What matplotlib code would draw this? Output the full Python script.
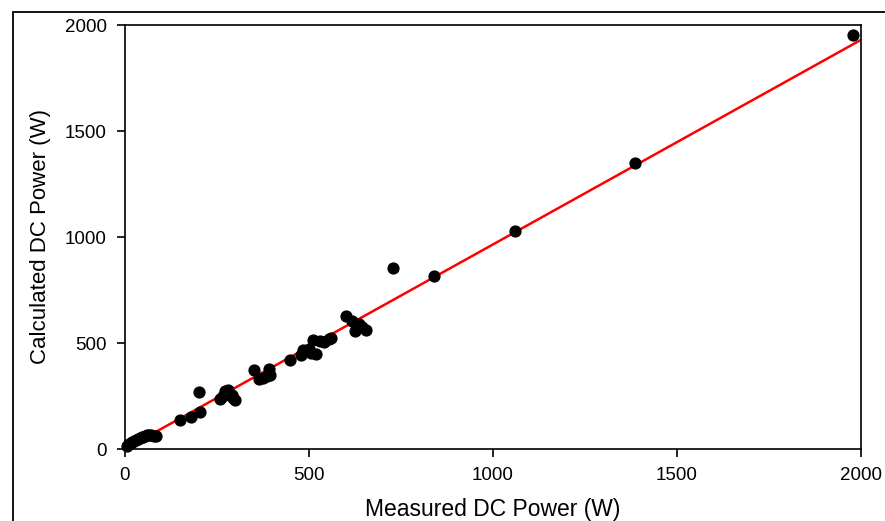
import numpy as np
import matplotlib.pyplot as plt
from matplotlib.patches import Rectangle

plt.rcParams['font.family'] = ['Liberation Sans', 'DejaVu Sans']

# measured vs calculated DC power (W)
measured = [5, 10, 15, 20, 25, 30, 35, 40, 45, 50, 55, 60, 65, 70, 80, 85,
            150, 178, 205, 201, 258, 265, 272, 280, 290, 293, 300,
            350, 365, 375, 385, 390, 395, 448, 478, 484, 500, 505, 510,
            520, 530, 540, 554, 560, 600, 617, 625, 635, 645, 655,
            727, 840, 1060, 1386, 1978]
calculated = [15, 25, 30, 35, 40, 42, 45, 50, 55, 58, 62, 65, 66, 64, 63, 62,
              137, 152, 175, 269, 238, 248, 275, 280, 255, 240, 232,
              373, 330, 335, 342, 377, 350, 420, 445, 468, 470, 455, 515,
              450, 510, 505, 520, 525, 627, 605, 555, 590, 575, 560,
              854, 816, 1028, 1349, 1953]

fit_x = [0, 2000]
fit_slope = 0.965

x_ticks = [0, 500, 1000, 1500, 2000]
y_ticks = [0, 500, 1000, 1500, 2000]

fig = plt.figure(figsize=(8.85, 5.21), dpi=100)
ax = fig.add_axes([125 / 885, 1 - 449 / 521, 736 / 885, 424 / 521])

# outer frame around the whole graphic
fig.patches.append(Rectangle((13 / 885, -0.1), 1.2, 1 - 12 / 521 + 0.1,
                             transform=fig.transFigure, fill=False,
                             edgecolor='black', linewidth=1.3))

ax.plot(fit_x, [fit_slope * v for v in fit_x], color='red', lw=1.8, zorder=2)
ax.plot(measured, calculated, 'o', color='black', ms=7.8, zorder=3, clip_on=False)

ax.set_xlim(0, 2000)
ax.set_ylim(0, 2000)
ax.set_xticks(x_ticks)
ax.set_yticks(y_ticks)
ax.tick_params(direction='out', length=6, width=1.2, labelsize=13.5, pad=7,
               top=False, right=False)
for sp in ax.spines.values():
    sp.set_linewidth(1.2)

ax.set_xlabel('Measured DC Power (W)', fontsize=16.5, labelpad=10)
ax.set_ylabel('Calculated DC Power (W)', fontsize=16, labelpad=10)

fig.savefig('out.png', dpi=100)
